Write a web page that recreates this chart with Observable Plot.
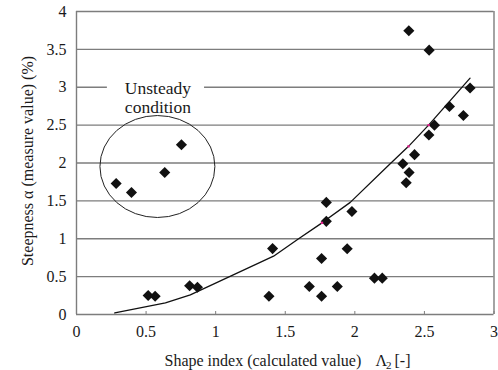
<!DOCTYPE html>
<html><head><meta charset="utf-8">
<script src="https://cdn.jsdelivr.net/npm/d3@7"></script>
<script src="https://cdn.jsdelivr.net/npm/@observablehq/plot@0.6"></script>
<style>
html,body{margin:0;padding:0;background:#fff}
svg{display:block}
</style>
</head><body><div id="chart"></div>
<script>
// Measured points: shape index Λ2 (calculated) vs steepness α (measured, %)
const shapeIndex = [0.285, 0.395, 0.634, 0.754,
  0.515, 0.565, 0.813, 0.869,
  1.383, 1.409, 1.673, 1.761, 1.761, 1.795, 1.795, 1.874, 1.945, 1.979, 2.141, 2.197,
  2.369, 2.39, 2.345, 2.429, 2.532, 2.572, 2.68, 2.78, 2.828, 2.534, 2.388];
const steepness = [1.73, 1.61, 1.875, 2.24,
  0.25, 0.24, 0.38, 0.36,
  0.24, 0.87, 0.37, 0.24, 0.74, 1.48, 1.23, 0.37, 0.867, 1.36, 0.48, 0.48,
  1.74, 1.875, 1.99, 2.11, 2.37, 2.50, 2.746, 2.627, 2.99, 3.49, 3.745];
// Fitted curve
const fitX = [0.275, 0.639, 0.818, 1.416, 1.596, 1.764, 1.967, 2.254, 2.386, 2.53, 2.828];
const fitY = [0.02, 0.154, 0.26, 0.77, 1.0, 1.21, 1.48, 1.99, 2.22, 2.5, 3.12];
// small magenta marks on the curve
const markX = [1.764, 2.386, 2.53];
const markY = [1.21, 2.22, 2.5];
// ticks
const xTicks = [0, 0.5, 1, 1.5, 2, 2.5, 3];
const xTickLabels = ["0", "0.5", "1", "1.5", "2", "2.5", "3"];
const yTicks = [0, 0.5, 1, 1.5, 2, 2.5, 3, 3.5, 4];
const yTickLabels = ["0", "0.5", "1", "1.5", "2", "2.5", "3", "3.5", "4"];
// texts
const xLabel = "Shape index (calculated value)";
const xSymbol = "Λ";
const xSub = "2";
const xUnit = "[-]";
const yLabel = "Steepness α (measure value) (%)";
const noteText = ["Unsteady\ncondition"];
// annotation geometry (data units)
const noteCenter = [{x: 0.585, y: 2.865}];
const noteBox = [{x1: 0.222, x2: 0.92, y1: 2.93, y2: 3.07}];
const ellipseSpec = [{cx: 0.585, cy: 1.947, rx: 0.413, ry: 0.673}];

const points = shapeIndex.map((x, i) => ({x, y: steepness[i]}));
const fit = fitX.map((x, i) => ({x, y: fitY[i]}));
const marks = markX.map((x, i) => ({x, y: markY[i]}));
const grid = "#7d7d7d";
const font = "Liberation Serif, DejaVu Serif, serif";

const ellipseMark = (index, scales) => {
  const {x, y} = scales;
  const g = d3.create("svg:g");
  for (const e of ellipseSpec) {
    g.append("ellipse")
      .attr("cx", x(e.cx)).attr("cy", y(e.cy))
      .attr("rx", x(e.cx + e.rx) - x(e.cx))
      .attr("ry", y(e.cy) - y(e.cy + e.ry))
      .attr("fill", "none").attr("stroke", "#222").attr("stroke-width", 1);
  }
  return g.node();
};

const chart = Plot.plot({
  width: 498, height: 370,
  marginLeft: 76, marginRight: 4.5, marginTop: 11, marginBottom: 56,
  x: {domain: [0, 3]},
  y: {domain: [0, 4]},
  style: {fontFamily: font, fontSize: "16px", color: "#1a1a1a", background: "#fff"},
  marks: [
    Plot.ruleY(yTicks.filter(d => d > 0), {stroke: grid, strokeWidth: 1.3}),
    Plot.ruleY([0], {stroke: grid, strokeWidth: 1.4}),
    Plot.ruleX([0, 3], {stroke: grid, strokeWidth: 1.4}),
    Plot.axisX(xTicks, {tickSize: -3, tickFormat: () => "", label: null, stroke: grid}),
    Plot.axisX(xTicks, {tickSize: 0, tickPadding: 11, tickFormat: d => xTickLabels[xTicks.indexOf(d)], label: null, fontSize: 16, fontFamily: font}),
    Plot.axisY(yTicks, {tickSize: 0, tickPadding: 10, tickFormat: d => yTickLabels[yTicks.indexOf(d)], label: null, fontSize: 16, fontFamily: font}),
    Plot.rect(noteBox, {x1: "x1", x2: "x2", y1: "y1", y2: "y2", fill: "#fff"}),
    Plot.text(noteCenter, {x: "x", y: "y", text: () => noteText[0], fontSize: 17.5, lineHeight: 1.05, lineAnchor: "middle", fill: "#1a1a1a", fontFamily: font}),
    ellipseMark,
    Plot.line(fit, {x: "x", y: "y", stroke: "#111", strokeWidth: 1.3}),
    Plot.dot(points, {x: "x", y: "y", symbol: "diamond2", r: 5, fill: "#111", stroke: "none"}),
    Plot.dot(marks, {x: "x", y: "y", symbol: "square", r: 1.3, fill: "#e0208c"}),
    Plot.text([yLabel], {frameAnchor: "left", dx: -49, dy: -2, rotate: -90, textAnchor: "middle", fontSize: 16, lineAnchor: "middle", fill: "#1a1a1a", fontFamily: font}),
    Plot.text([xLabel], {frameAnchor: "bottom-left", dx: 88, dy: 51.5, textAnchor: "start", lineAnchor: "bottom", fontSize: 16, fill: "#1a1a1a", fontFamily: font}),
    Plot.text([xSymbol], {frameAnchor: "bottom-left", dx: 299, dy: 51.5, textAnchor: "start", lineAnchor: "bottom", fontSize: 16, fill: "#1a1a1a", fontFamily: font}),
    Plot.text([xSub], {frameAnchor: "bottom-left", dx: 309.5, dy: 54.5, textAnchor: "start", lineAnchor: "bottom", fontSize: 11, fill: "#1a1a1a", fontFamily: font}),
    Plot.text([xUnit], {frameAnchor: "bottom-left", dx: 318, dy: 51.5, textAnchor: "start", lineAnchor: "bottom", fontSize: 16, fill: "#1a1a1a", fontFamily: font})
  ]
});
document.getElementById("chart").append(chart);
</script>
</body></html>
